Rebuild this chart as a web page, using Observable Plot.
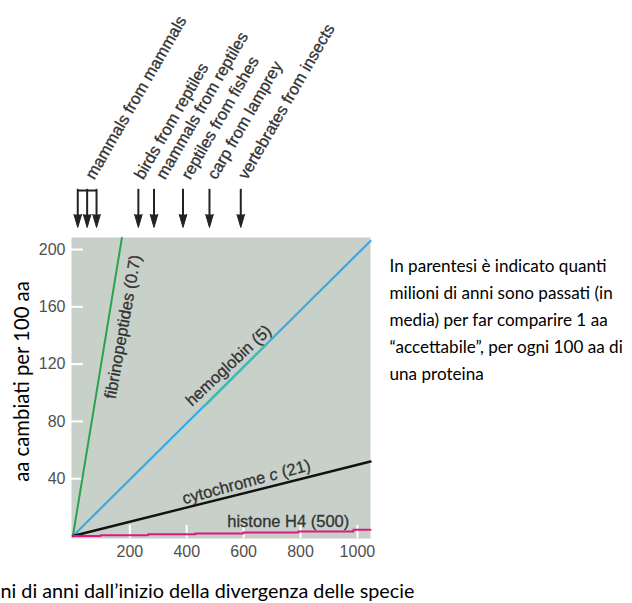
<!DOCTYPE html>
<html>
<head>
<meta charset="utf-8">
<script src="https://cdn.jsdelivr.net/npm/d3@7"></script>
<script src="https://cdn.jsdelivr.net/npm/@observablehq/plot@0.6"></script>
<style>
  html, body { margin: 0; padding: 0; background: white; overflow: hidden; }
  #chart { position: absolute; left: 0; top: 0; }
</style>
</head>
<body>
<div id="chart"></div>
<script>
// ---- tick labels ----
const xTicks = [200, 400, 600, 800, 1000];
const yTicks = [40, 80, 120, 160, 200];

// ---- protein series (million years, aa changes per 100 aa) ----
const proteinNames = ["fibrinopeptides (0.7)", "hemoglobin (5)", "cytochrome c (21)", "histone H4 (500)"];
const fibrinX = [0, 172];
const fibrinY = [0, 208];
const hemoX = [0, 1046];
const hemoY = [0, 206];
const hemoGreenX = [464, 681];
const hemoGreenY = [91, 134];
const cytoX = [0, 1046];
const cytoY = [0, 52];
const histoneX = [0, 97, 265, 430, 599, 792, 986, 1046];
const histoneY = [0, 0.6, 1.3, 1.7, 2.4, 3.1, 4.3, 4.3];

// label anchor points (data units)
const proteinLabelX = [176, 547, 610, 757];
const proteinLabelY = [146, 119, 37.7, 10.3];
const proteinLabelAngle = [-80, -43, -15, 0];

// ---- divergence arrows (million years) ----
const arrowX = [17, 50, 83, 230, 285, 387, 480, 590];
const divergenceNames = ["mammals from mammals", "birds from reptiles", "mammals from reptiles", "reptiles from fishes", "carp from lamprey", "vertebrates from insects"];
const divergenceX = [66, 238, 315, 403, 495, 603];

// ---- texts ----
const yLabel = "aa cambiati per 100 aa";
const xLabel = "ni di anni dall\u2019inizio della divergenza delle specie";
const note = "In parentesi \u00e8 indicato quanti\nmilioni di anni sono passati (in\nmedia) per far comparire 1 aa\n\u201caccettabile\u201d, per ogni 100 aa di\nuna proteina";

const toPts = (xs, ys) => xs.map((x, i) => ({x, y: ys[i]}));
const labels = proteinNames.map((t, i) => ({t, x: proteinLabelX[i], y: proteinLabelY[i], a: proteinLabelAngle[i]}));
const divergences = divergenceNames.map((t, i) => ({t, x: divergenceX[i]}));

const yMin = -1.75, yMax = 208.4, xMin = -5, xMax = 1046;
const calibri = "Lato, 'Open Sans', sans-serif";
const helv = "'Liberation Sans', Arial, sans-serif";

const svg = Plot.plot({
  width: 632,
  height: 603,
  marginLeft: 71,
  marginRight: 262,
  marginTop: 237,
  marginBottom: 65,
  style: {fontFamily: helv, fontSize: "16px", color: "#505050", background: "white", overflow: "visible"},
  x: {domain: [xMin, xMax], ticks: xTicks, tickFormat: d => String(d), tickSize: 0, tickPadding: 7, label: null},
  y: {domain: [yMin, yMax], ticks: yTicks, tickFormat: d => String(d), tickSize: 0, tickPadding: 6, label: null},
  marks: [
    Plot.frame({fill: "#c8d0ca", stroke: null}),
    // inner white ticks
    Plot.ruleY(yTicks, {y: d => d, x1: xMin, x2: xMin + 42, stroke: "white", strokeWidth: 2}),
    Plot.ruleX(xTicks, {x: d => d, y1: yMin, y2: 7.5, stroke: "white", strokeWidth: 2}),
    // series
    Plot.line(toPts(fibrinX, fibrinY), {x: "x", y: "y", stroke: "#2aa44c", strokeWidth: 2}),
    Plot.line(toPts(hemoX, hemoY), {x: "x", y: "y", stroke: "#3aa9e6", strokeWidth: 2.2}),
    Plot.line(toPts(hemoGreenX, hemoGreenY), {x: "x", y: "y", stroke: "#3fbea6", strokeWidth: 2.2}),
    Plot.line(toPts(cytoX, cytoY), {x: "x", y: "y", stroke: "#111", strokeWidth: 2.4}),
    Plot.line(toPts(histoneX, histoneY), {x: "x", y: "y", curve: "step-after", stroke: "#e0187e", strokeWidth: 2}),
    // series labels
    Plot.text(labels, {x: "x", y: "y", text: "t", rotate: "a", fontSize: 16.5, fill: "#333", stroke: "#333", strokeWidth: 0.3}),
    // divergence arrows
    Plot.ruleY([{x1: arrowX[0], x2: arrowX[2]}], {y: 241.2, x1: "x1", x2: "x2", stroke: "#222", strokeWidth: 2}),
    Plot.ruleX(arrowX, {x: d => d, y1: 242, y2: 222, stroke: "#222", strokeWidth: 2}),
    Plot.vector(arrowX, {x: d => d, y: 224.5, length: 13, rotate: 180, anchor: "start", shape: "spike", r: 3.8, fill: "#222", stroke: "#222", strokeWidth: 1}),
    Plot.text(divergences, {x: "x", y: 250, text: "t", rotate: -60, textAnchor: "start", dx: -2, fontSize: 16.5, fill: "#333", stroke: "#333", strokeWidth: 0.3}),
    // outside texts
    Plot.text([note], {frameAnchor: "top-right", dx: 19, dy: 15.5, textAnchor: "start", lineAnchor: "top", lineHeight: 1.58, fontSize: 17.1, fontFamily: calibri, fill: "black"}),
    Plot.text([yLabel], {frameAnchor: "left", dx: -49.3, dy: -6.5, rotate: -90, textAnchor: "middle", lineAnchor: "middle", fontSize: 20.3, fontFamily: calibri, fill: "black"}),
    Plot.text([xLabel], {frameAnchor: "bottom-left", dx: -71, dy: 53, textAnchor: "start", lineAnchor: "middle", fontSize: 19.8, fontFamily: calibri, fill: "black"})
  ]
});

// italic "c" in cytochrome c
d3.select(svg).selectAll("text").filter(function() { return this.textContent === "cytochrome c (21)"; })
  .each(function() {
    const t = d3.select(this);
    t.text(null);
    t.append("tspan").text("cytochrome ");
    t.append("tspan").attr("font-style", "italic").text("c");
    t.append("tspan").text(" (21)");
  });

document.getElementById("chart").appendChild(svg);
</script>
</body>
</html>
